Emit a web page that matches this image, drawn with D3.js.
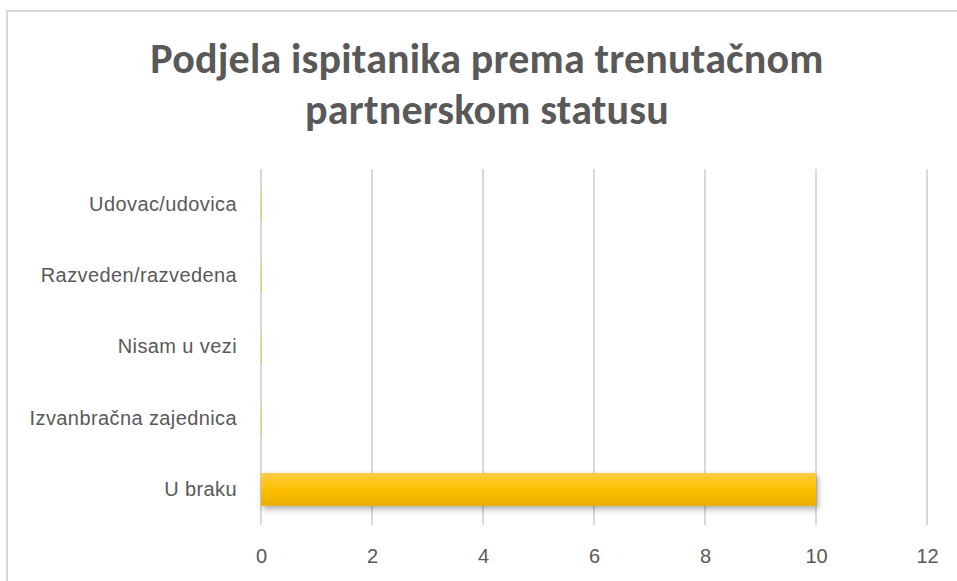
<!DOCTYPE html>
<html>
<head>
<meta charset="utf-8">
<script src="https://cdn.jsdelivr.net/npm/d3@7"></script>
<style>
  body { margin: 0; background: #fff; }
  svg { display: block; font-family: Carlito, Calibri, Lato, "Open Sans", sans-serif; }
</style>
</head>
<body>
<svg id="chart" width="957" height="581"></svg>
<script>
// DATA
const categories = ["Udovac/udovica", "Razveden/razvedena", "Nisam u vezi ", "Izvanbračna zajednica", "U braku"];
const values = [0, 0, 0, 0, 10];
const xTicks = [0, 2, 4, 6, 8, 10, 12];
const titleLines = ["Podjela ispitanika prema trenutačnom", "partnerskom statusu"];

const svg = d3.select("#chart");

// CANVAS SETUP
const margin = { top: 169, right: 30, bottom: 56, left: 261 },
  width = 927 - margin.left,
  height = 525 - margin.top;

// chart frame (cut off at right/bottom like the original screenshot)
svg.append("rect")
  .attr("x", 7).attr("y", 11)
  .attr("width", 1000).attr("height", 700)
  .attr("fill", "#fff")
  .attr("stroke", "#d9d9d9")
  .attr("stroke-width", 2);

const defs = svg.append("defs");
const grad = defs.append("linearGradient")
  .attr("id", "barGrad")
  .attr("x1", 0).attr("y1", 0).attr("x2", 0).attr("y2", 1);
grad.append("stop").attr("offset", "0%").attr("stop-color", "#ffcb45");
grad.append("stop").attr("offset", "50%").attr("stop-color", "#ffc000");
grad.append("stop").attr("offset", "100%").attr("stop-color", "#e8ae00");

const shadow = defs.append("filter")
  .attr("id", "shadow")
  .attr("x", "-20%").attr("y", "-40%")
  .attr("width", "140%").attr("height", "200%");
shadow.append("feDropShadow")
  .attr("dx", 2).attr("dy", 3)
  .attr("stdDeviation", 3)
  .attr("flood-color", "#000")
  .attr("flood-opacity", 0.35);

// title
svg.append("text")
  .attr("text-anchor", "middle")
  .attr("fill", "#595959")
  .attr("font-weight", "bold")
  .attr("font-size", 42)
  .attr("letter-spacing", 0.2)
  .selectAll("tspan")
  .data(titleLines)
  .join("tspan")
  .attr("x", 487)
  .attr("y", (d, i) => 73 + i * 51)
  .text((d) => d);

const g = svg.append("g").attr("transform", `translate(${margin.left},${margin.top})`);

// SCALES
const x = d3.scaleLinear().domain([0, 12]).range([0, width]);
const y = d3.scaleBand().domain(categories).range([0, height]).paddingInner(0.54).paddingOuter(0.27);

// gridlines
g.append("g")
  .selectAll("line")
  .data(xTicks)
  .join("line")
  .attr("x1", (d) => x(d)).attr("x2", (d) => x(d))
  .attr("y1", 0).attr("y2", height)
  .attr("stroke", "#d9d9d9")
  .attr("stroke-width", 2);

// x axis
const xAxis = g.append("g")
  .attr("transform", `translate(0,${height})`)
  .call(d3.axisBottom(x).tickValues(xTicks).tickSize(0).tickPadding(24));
xAxis.select(".domain").remove();
xAxis.selectAll("text")
  .attr("fill", "#595959")
  .attr("font-size", 20)
  .attr("font-family", null);

// y axis
const yAxis = g.append("g")
  .call(d3.axisLeft(y).tickSize(0).tickPadding(24));
yAxis.select(".domain").remove();
yAxis.selectAll("text")
  .attr("fill", "#595959")
  .attr("font-size", 20)
  .attr("letter-spacing", 0.4)
  .attr("font-family", null);

// bars
g.append("g")
  .selectAll("rect")
  .data(values)
  .join("rect")
  .attr("x", x(0))
  .attr("y", (d, i) => y(categories[i]))
  .attr("width", (d) => Math.max(x(d) - x(0), 0.5))
  .attr("height", y.bandwidth())
  .attr("fill", "url(#barGrad)")
  .attr("filter", "url(#shadow)");
</script>
</body>
</html>
